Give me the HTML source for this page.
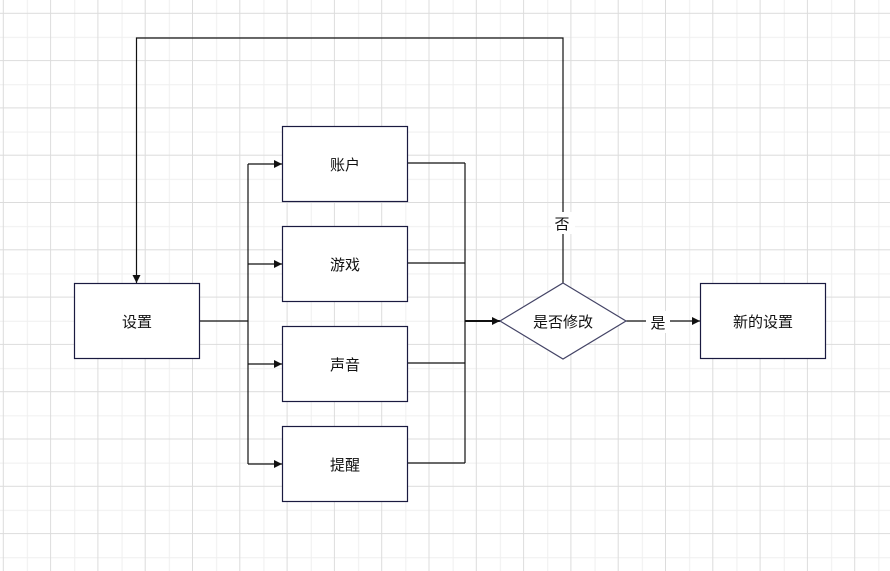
<!DOCTYPE html>
<html><head><meta charset="utf-8"><style>
html,body{margin:0;padding:0;background:#fff}
svg{display:block}
text{font-family:"Liberation Sans","Noto Sans CJK SC",sans-serif;font-size:15px;fill:#111}
</style></head><body>
<svg width="890" height="571" viewBox="0 0 890 571" xmlns="http://www.w3.org/2000/svg">
<defs>
<marker id="a" viewBox="0 0 10 10" refX="10" refY="5" markerWidth="8" markerHeight="8" markerUnits="userSpaceOnUse" orient="auto"><path d="M0,0L10,5L0,10z" fill="#111"/></marker>
<pattern id="gp" patternUnits="userSpaceOnUse" x="2.8" y="12.8" width="47.3" height="47.3">
<rect x="24.15" y="0" width="1" height="47.3" fill="#efefef"/>
<rect x="0" y="24.15" width="47.3" height="1" fill="#efefef"/>
<rect x="0" y="0" width="1" height="47.3" fill="#dcdcdc"/>
<rect x="0" y="0" width="47.3" height="1" fill="#dcdcdc"/>
</pattern>
</defs>
<rect x="0" y="0" width="890" height="571" fill="url(#gp)"/>
<g fill="none" stroke="#111" stroke-width="1.2">
<path d="M199.5,321H248"/>
<path d="M248,164V464"/>
<path d="M248,164H282" marker-end="url(#a)"/>
<path d="M248,264H282" marker-end="url(#a)"/>
<path d="M248,364H282" marker-end="url(#a)"/>
<path d="M248,464H282" marker-end="url(#a)"/>
<path d="M407.5,163H465M407.5,263H465M407.5,363H465M407.5,463H465M465,163V463"/>
<path d="M465,321H500" stroke-width="2" marker-end="url(#a)"/>
<path d="M563,283V38H136.5V283" marker-end="url(#a)"/>
<path d="M626,321H700" marker-end="url(#a)"/>
</g>
<g fill="#fff" stroke="#1a1a40" stroke-width="1.2">
<rect x="74.5" y="283.5" width="125" height="75"/>
<rect x="282.5" y="126.5" width="125" height="75"/>
<rect x="282.5" y="226.5" width="125" height="75"/>
<rect x="282.5" y="326.5" width="125" height="75"/>
<rect x="282.5" y="426.5" width="125" height="75"/>
<rect x="700.5" y="283.5" width="125" height="75"/>
<path d="M563,283L626,321L563,359L500,321Z" stroke="#444466"/>
</g>
<rect x="551" y="212" width="24" height="22" fill="#fff"/>
<rect x="646" y="311" width="24" height="22" fill="#fff"/>
<g text-anchor="middle">
<text x="137" y="327">设置</text>
<text x="345" y="170">账户</text>
<text x="345" y="270">游戏</text>
<text x="345" y="370">声音</text>
<text x="345" y="470">提醒</text>
<text x="563" y="327">是否修改</text>
<text x="763" y="327">新的设置</text>
<text x="562" y="229">否</text>
<text x="658" y="328">是</text>
</g>
</svg>
</body></html>
